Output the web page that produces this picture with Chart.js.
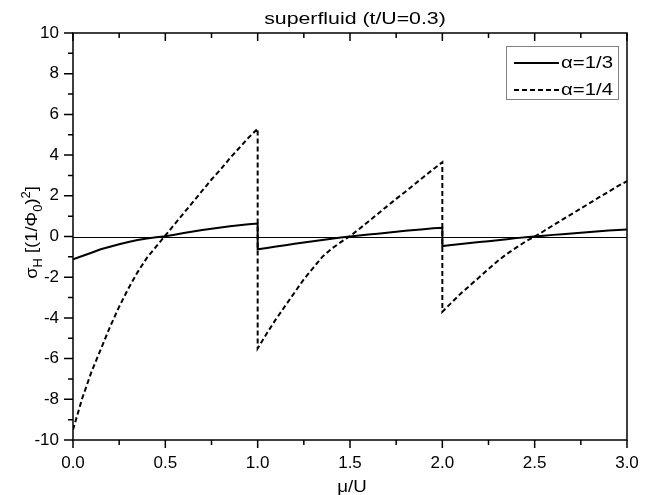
<!DOCTYPE html>
<html>
<head>
<meta charset="utf-8">
<script src="https://cdn.jsdelivr.net/npm/chart.js@4.4.0/dist/chart.umd.min.js"></script>
<style>
    html, body { margin: 0; padding: 0; background: #fff; }
    #wrap { width: 670px; height: 495px; }
</style>
</head>
<body>
<div id="wrap"><canvas id="chart" width="670" height="495"></canvas></div>
<script>
// mu/U values; the jumps at 1.0 and 2.0 appear twice (left and right limit)
const mu = [
    0.00, 0.05, 0.10, 0.15, 0.20, 0.25, 0.30, 0.35, 0.40, 0.45,
    0.50, 0.55, 0.60, 0.65, 0.70, 0.75, 0.80, 0.85, 0.90, 0.95, 1.00,
    1.00, 1.05, 1.10, 1.15, 1.20, 1.25, 1.30, 1.35, 1.40, 1.45,
    1.50, 1.55, 1.60, 1.65, 1.70, 1.75, 1.80, 1.85, 1.90, 1.95, 2.00,
    2.00, 2.05, 2.10, 2.15, 2.20, 2.25, 2.30, 2.35, 2.40, 2.45,
    2.50, 2.55, 2.60, 2.65, 2.70, 2.75, 2.80, 2.85, 2.90, 2.95, 3.00
];

// alpha = 1/3 (solid)
const sigmaA13 = [
    -1.12, -0.96, -0.80, -0.63, -0.50, -0.38, -0.27, -0.17, -0.10, -0.04,
    0.01, 0.09, 0.17, 0.25, 0.32, 0.38, 0.44, 0.50, 0.55, 0.60, 0.64,
    -0.63, -0.56, -0.49, -0.43, -0.36, -0.30, -0.23, -0.17, -0.11, -0.05,
    0.00, 0.05, 0.10, 0.14, 0.19, 0.23, 0.28, 0.32, 0.36, 0.40, 0.43,
    -0.47, -0.42, -0.37, -0.32, -0.27, -0.23, -0.18, -0.13, -0.08, -0.04,
    0.00, 0.04, 0.08, 0.11, 0.15, 0.19, 0.22, 0.26, 0.29, 0.32, 0.35
];

// alpha = 1/4 (dashed)
const sigmaA14 = [
    -9.50, -7.95, -6.65, -5.55, -4.45, -3.45, -2.55, -1.75, -1.05, -0.50,
    0.05, 0.60, 1.15, 1.70, 2.25, 2.80, 3.30, 3.85, 4.35, 4.85, 5.30,
    -5.50, -4.75, -4.05, -3.40, -2.75, -2.10, -1.55, -1.00, -0.60, -0.28,
    0.02, 0.37, 0.74, 1.11, 1.48, 1.85, 2.20, 2.57, 2.94, 3.30, 3.65,
    -3.70, -3.25, -2.80, -2.40, -2.00, -1.60, -1.20, -0.85, -0.55, -0.25,
    0.00, 0.27, 0.55, 0.83, 1.10, 1.38, 1.65, 1.93, 2.20, 2.47, 2.72
];

const seriesLabels = ['α=1/3', 'α=1/4'];
const chartTitle = 'superfluid (t/U=0.3)';
const xTitle = 'μ/U';

const FONT = "'Liberation Sans', Arial, sans-serif";

function toPoints(ys) {
    return mu.map((x, i) => ({ x: x, y: ys[i] }));
}

// текст, растянутый по горизонтали (как в исходном рисунке)
function wideText(ctx, text, x, y, sx) {
    ctx.save();
    ctx.translate(x, y);
    ctx.scale(sx, 1);
    ctx.fillText(text, 0, 0);
    ctx.restore();
}

// рамка, засечки, подписи и легенда
const framePlugin = {
    id: 'frame',
    beforeDatasetsDraw(chart) {
        const ctx = chart.ctx;
        const a = chart.chartArea;
        const y0 = chart.scales.y.getPixelForValue(0);
        ctx.save();
        ctx.strokeStyle = '#000';
        ctx.lineWidth = 1;
        ctx.beginPath();
        ctx.moveTo(a.left, Math.round(y0) + 0.5);
        ctx.lineTo(a.right, Math.round(y0) + 0.5);
        ctx.stroke();
        ctx.restore();
    },
    afterDraw(chart) {
        const ctx = chart.ctx;
        const a = chart.chartArea;
        const xs = chart.scales.x;
        const ys = chart.scales.y;
        ctx.save();
        ctx.strokeStyle = '#000';
        ctx.lineWidth = 1.5;

        // box
        ctx.strokeRect(a.left, a.top, a.right - a.left, a.bottom - a.top);

        // x ticks: bottom outward, top inward
        ctx.beginPath();
        for (let i = 0; i <= 12; i++) {
            const px = xs.getPixelForValue(i * 0.25);
            const major = i % 2 === 0;
            ctx.moveTo(px, a.bottom);
            ctx.lineTo(px, a.bottom + (major ? 8 : 5));
            ctx.moveTo(px, a.top);
            ctx.lineTo(px, a.top + (major ? 8 : 5));
        }
        // y ticks: left outward
        for (let v = -10; v <= 10; v++) {
            const py = ys.getPixelForValue(v);
            const major = v % 2 === 0;
            ctx.moveTo(a.left, py);
            ctx.lineTo(a.left - (major ? 9 : 5), py);
        }
        ctx.stroke();

        ctx.fillStyle = '#000';
        ctx.textAlign = 'center';
        ctx.font = '16px ' + FONT;
        ctx.textBaseline = 'alphabetic';
        wideText(ctx, chartTitle, 355, 24, 1.33);
        ctx.font = '17px ' + FONT;
        ctx.textBaseline = 'middle';
        wideText(ctx, xTitle, 352, 487, 1.1);

        // y axis title with sub/superscripts
        const parts = [
            { t: 'σ', s: 17, dy: 0 },
            { t: 'H', s: 12, dy: 5 },
            { t: ' [(1/Φ', s: 17, dy: 0 },
            { t: '0', s: 12, dy: 5 },
            { t: ')', s: 17, dy: 0 },
            { t: '2', s: 12, dy: -7 },
            { t: ']', s: 17, dy: 0 }
        ];
        const stretch = 1.08;
        let total = 0;
        parts.forEach(p => {
            ctx.font = p.s + 'px ' + FONT;
            p.w = ctx.measureText(p.t).width * stretch;
            total += p.w;
        });
        ctx.translate(31, (a.top + a.bottom) / 2 - 4);
        ctx.rotate(-Math.PI / 2);
        ctx.textAlign = 'left';
        ctx.textBaseline = 'alphabetic';
        let x = -total / 2;
        parts.forEach(p => {
            ctx.font = p.s + 'px ' + FONT;
            wideText(ctx, p.t, x, 6 + p.dy, stretch);
            x += p.w;
        });
        ctx.restore();

        // legend
        ctx.save();
        ctx.strokeStyle = '#808080';
        ctx.lineWidth = 1;
        ctx.strokeRect(506.5, 46.5, 112, 53);
        ctx.strokeStyle = '#000';
        ctx.lineWidth = 2;
        const rows = [63, 90];
        chart.data.datasets.forEach((ds, i) => {
            ctx.setLineDash(ds.borderDash || []);
            ctx.beginPath();
            ctx.moveTo(514, rows[i]);
            ctx.lineTo(559, rows[i]);
            ctx.stroke();
        });
        ctx.setLineDash([]);
        ctx.fillStyle = '#000';
        ctx.font = '17px ' + FONT;
        ctx.textAlign = 'left';
        ctx.textBaseline = 'middle';
        seriesLabels.forEach((l, i) => wideText(ctx, l, 561, rows[i], 1.2));
        ctx.restore();
    }
};

new Chart(document.getElementById('chart'), {
    type: 'scatter',
    data: {
        datasets: [
            {
                label: seriesLabels[0],
                data: toPoints(sigmaA13),
                showLine: true,
                borderColor: '#000',
                borderWidth: 2,
                pointRadius: 0,
                tension: 0
            },
            {
                label: seriesLabels[1],
                data: toPoints(sigmaA14),
                showLine: true,
                borderColor: '#000',
                borderWidth: 2,
                borderDash: [5, 3],
                pointRadius: 0,
                tension: 0
            }
        ]
    },
    options: {
        responsive: false,
        animation: false,
        layout: { padding: { top: 33, right: 43, left: 0, bottom: 0 } },
        plugins: {
            legend: { display: false },
            title: { display: false },
            tooltip: { enabled: false }
        },
        scales: {
            x: {
                type: 'linear',
                min: 0,
                max: 3,
                afterFit: s => { s.height = 55; },
                ticks: {
                    stepSize: 0.5,
                    padding: 13,
                    color: '#000',
                    font: { family: FONT, size: 17 },
                    callback: v => v.toFixed(1)
                },
                grid: { drawOnChartArea: false, drawTicks: false },
                border: { display: false }
            },
            y: {
                min: -10,
                max: 10,
                afterFit: s => { s.width = 73; },
                ticks: {
                    stepSize: 2,
                    padding: 14,
                    color: '#000',
                    font: { family: FONT, size: 17 },
                    callback: v => String(v)
                },
                grid: { drawOnChartArea: false, drawTicks: false },
                border: { display: false }
            }
        }
    },
    plugins: [framePlugin]
});
</script>
</body>
</html>
